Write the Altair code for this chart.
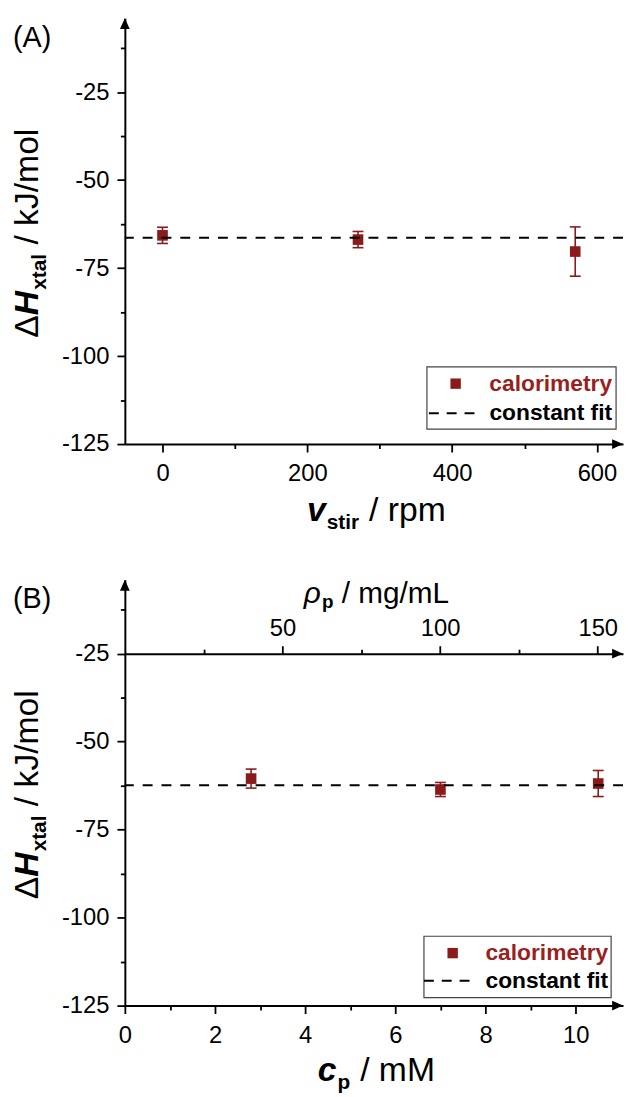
import altair as alt
import pandas as pd

# ---------------- data ----------------
stir_rpm = [0, 270, 570]
dh_stir = [-65.7, -66.9, -70.3]
err_stir = [2.3, 2.3, 7.0]
fit_stir = -66.4

cp_mM = [2.8, 7.0, 10.5]
dh_cp = [-60.5, -63.6, -61.9]
err_cp = [2.7, 2.0, 3.7]
fit_cp = -62.4

y_major = [-25, -50, -75, -100, -125]
y_minor = [-12.5, -37.5, -62.5, -87.5, -112.5]
stir_major = [0, 200, 400, 600]
stir_minor = [100, 300, 500]
cp_major = [0, 2, 4, 6, 8, 10]
cp_minor = [1, 3, 5, 7, 9]
rho_major = [50, 100, 150]
rho_minor = [25, 75, 125]
MG_PER_MM = 14.3

legend_labels = ["calorimetry", "constant fit"]
panel_labels = ["(A)", "(B)"]

# ---------------- style ----------------
W, H = 503, 430
Y_DOM = [-125, -4]
X_DOM_A = [-52, 636]
X_DOM_B = [0, 11.05]
FONT = "Liberation Sans"
RED = "#8b1a1a"
LRED = "#9a1f1f"
ONE = pd.DataFrame({"a": [0]})

REG = {' ': 278, '/': 278, 'k': 500, 'J': 500, 'm': 833, 'o': 556, 'l': 222, 'r': 333,
       'p': 556, 'g': 556, 'L': 556, 'M': 833, 'Δ': 668, 'ρ': 575}
BOLD = {'v': 556, 's': 556, 't': 333, 'i': 278, 'r': 389, 'x': 556, 'a': 556, 'l': 278,
        'c': 556, 'p': 611, 'H': 722}


def twidth(txt, size, weight):
    tab = BOLD if weight == "bold" else REG
    return sum(tab.get(ch, 556) for ch in txt) * size / 1000.0


def text_layer(txt, x, y, size, weight="normal", style="normal", angle=0,
               align="left", baseline="alphabetic", color="black"):
    return alt.Chart(ONE).mark_text(
        text=txt, font=FONT, fontSize=size, fontWeight=weight, fontStyle=style,
        angle=angle, align=align, baseline=baseline, color=color
    ).encode(x=alt.value(x), y=alt.value(y))


def hsegs(segs, cx, base):
    total = sum(twidth(t, s, w) + g for t, s, w, st, dy, g in segs)
    x = cx - total / 2
    out = []
    for t, s, w, st, dy, g in segs:
        x += g
        out.append(text_layer(t, x, base + dy, s, w, st))
        x += twidth(t, s, w)
    return out


def vsegs(segs, xbase, cy):
    total = sum(twidth(t, s, w) + g for t, s, w, st, dy, g in segs)
    y = cy + total / 2
    out = []
    for t, s, w, st, dy, g in segs:
        y -= g
        out.append(text_layer(t, xbase + dy, y, s, w, st, angle=270))
        y -= twidth(t, s, w)
    return out


def axis(orient, values, labels=True, tick=8.0, domain=True, offset=0,
         label_expr="'' + datum.value"):
    pad = {"left": 8, "bottom": 10, "top": 5}[orient]
    kw = dict(orient=orient, values=values, labels=labels, ticks=True, tickSize=tick,
              tickWidth=1.8, tickColor="black", domain=domain, domainColor="black",
              domainWidth=2, grid=False, title=None, labelFont=FONT, labelFontSize=24,
              labelColor="black", labelFlush=False, labelOverlap=False,
              labelPadding=pad, offset=offset, labelExpr=label_expr)
    return alt.Axis(**kw)


def panel(xv, yv, ev, fit, xdom, xmaj, xmin, plabel, xtitle, legend, top_axis=None):
    xs = alt.Scale(domain=xdom, nice=False, zero=False)
    ys = alt.Scale(domain=Y_DOM, nice=False, zero=False)
    df = pd.DataFrame({"x": xv, "y": yv,
                       "lo": [a - b for a, b in zip(yv, ev)],
                       "hi": [a + b for a, b in zip(yv, ev)]})
    X = lambda f, ax=None: alt.X(f, type="quantitative", scale=xs, axis=ax)
    Y = lambda f, ax=None: alt.Y(f, type="quantitative", scale=ys, axis=ax)

    layers = []
    layers.append(alt.Chart(df).mark_rule(color=RED, strokeWidth=1.6).encode(
        x=X("x"), y=Y("lo"), y2="hi"))
    for f in ["lo", "hi"]:
        layers.append(alt.Chart(df).mark_tick(orient="horizontal", size=11, thickness=1.6,
                                             color=RED, opacity=1).encode(x=X("x"), y=Y(f)))
    layers.append(alt.Chart(df).mark_square(size=115, color=RED, opacity=1).encode(
        x=X("x", axis("bottom", xmaj)), y=Y("y", axis("left", y_major))))
    layers.append(alt.Chart(ONE).mark_rule(color="black", strokeWidth=2,
                                           strokeDash=[10, 9]).encode(
        y=alt.Y(datum=fit, scale=ys, axis=None)))
    # minor ticks
    layers.append(alt.Chart(pd.DataFrame({"v": xmin})).mark_point(opacity=0).encode(
        x=X("v", axis("bottom", xmin, labels=False, tick=4.5, domain=False)),
        y=alt.Y(datum=-125, scale=ys, axis=None)))
    layers.append(alt.Chart(pd.DataFrame({"v": y_minor})).mark_point(opacity=0).encode(
        y=Y("v", axis("left", y_minor, labels=False, tick=4.5, domain=False)),
        x=alt.X(datum=xdom[0] + 1, scale=xs, axis=None)))
    # top (secondary) axis
    if top_axis is not None:
        off = -(Y_DOM[1] - (-25)) / (Y_DOM[1] - Y_DOM[0]) * H
        tmaj = [r / MG_PER_MM for r in rho_major]
        tmin = [r / MG_PER_MM for r in rho_minor]
        expr = "'' + round(datum.value*%s)" % MG_PER_MM
        layers.append(alt.Chart(pd.DataFrame({"v": tmaj})).mark_point(opacity=0).encode(
            x=X("v", axis("top", tmaj, offset=off, label_expr=expr)),
            y=alt.Y(datum=-25, scale=ys, axis=None)))
        layers.append(alt.Chart(pd.DataFrame({"v": tmin})).mark_point(opacity=0).encode(
            x=X("v", axis("top", tmin, labels=False, tick=4.5, domain=False, offset=off)),
            y=alt.Y(datum=-25, scale=ys, axis=None)))
        layers.append(alt.Chart(ONE).mark_point(shape="M1,0L-1,0.9L-1,-0.9Z", size=121,
                                                filled=True, color="black", opacity=1,
                                                strokeWidth=0).encode(
            x=alt.value(W - 5.5), y=alt.value(-off)))
        layers += hsegs(top_axis, 254, 23)
    # arrow heads
    layers.append(alt.Chart(ONE).mark_point(shape="M0,-1L0.9,1L-0.9,1Z", size=121,
                                            filled=True, color="black", opacity=1,
                                            strokeWidth=0).encode(
        x=alt.value(0), y=alt.value(5.5)))
    layers.append(alt.Chart(ONE).mark_point(shape="M1,0L-1,0.9L-1,-0.9Z", size=121,
                                            filled=True, color="black", opacity=1,
                                            strokeWidth=0).encode(
        x=alt.value(W - 5.5), y=alt.value(H)))
    # legend
    bx0, bx1, by0, by1, sq, dash, tx = legend
    layers.append(alt.Chart(ONE).mark_rect(fill="white", stroke="#444", strokeWidth=1.2).encode(
        x=alt.value(bx0), x2=alt.value(bx1), y=alt.value(by0), y2=alt.value(by1)))
    layers.append(alt.Chart(ONE).mark_square(size=110, color=RED, opacity=1).encode(
        x=alt.value(sq[0]), y=alt.value(sq[1])))
    layers.append(alt.Chart(ONE).mark_rule(color="black", strokeWidth=2,
                                           strokeDash=[10, 8]).encode(
        x=alt.value(dash[0]), x2=alt.value(dash[1]), y=alt.value(dash[2])))
    layers.append(text_layer(legend_labels[0], tx, sq[1], 23, "bold", align="right",
                             baseline="middle", color=LRED))
    layers.append(text_layer(legend_labels[1], tx, dash[2], 23, "bold", align="right",
                             baseline="middle"))
    # titles
    ytitle = [("Δ", 34, "normal", "normal", 0, 0),
              ("H", 34, "bold", "italic", 0, 0),
              ("xtal", 21, "bold", "normal", 8, 1),
              ("/ kJ/mol", 34, "normal", "normal", 0, 9.5)]
    layers += vsegs(ytitle, -88, H / 2 + 2)
    layers += hsegs(xtitle[0], 254, H + xtitle[1])
    layers.append(text_layer(plabel, -113, 20, 29, baseline="middle"))

    return alt.layer(*layers).resolve_axis(x="independent", y="independent").properties(
        width=W, height=H)


xt_a = ([("v", 34, "bold", "italic", 0, 0),
         ("stir", 21, "bold", "normal", 8, 1),
         ("/ rpm", 34, "normal", "normal", 0, 10)], 78)
xt_b = ([("c", 34, "bold", "italic", 0, 0),
         ("p", 21, "bold", "normal", 8, 1),
         ("/ mM", 34, "normal", "normal", 0, 10)], 76)
rho_t = [("ρ", 30, "normal", "italic", 0, 0),
         ("p", 19, "bold", "normal", 6, 1),
         ("/ mg/mL", 30, "normal", "normal", 0, 8.3)]

leg_a = (305, 496, 352, 415, (334, 369), (307, 354, 399), 492)
leg_b = (302, 491, 360, 422, (331, 377), (302, 354, 405), 488)

pa = panel(stir_rpm, dh_stir, err_stir, fit_stir, X_DOM_A, stir_major, stir_minor,
           panel_labels[0], xt_a, leg_a)
pb = panel(cp_mM, dh_cp, err_cp, fit_cp, X_DOM_B, cp_major, cp_minor,
           panel_labels[1], xt_b, leg_b, top_axis=rho_t)

chart = alt.vconcat(pa, pb, spacing=137, bounds="flush").properties(
    padding={"left": 3, "top": 5, "right": 0, "bottom": 0}
).configure_view(stroke=None)

chart.save("out.html", embed_options={"renderer": "svg", "actions": False})
